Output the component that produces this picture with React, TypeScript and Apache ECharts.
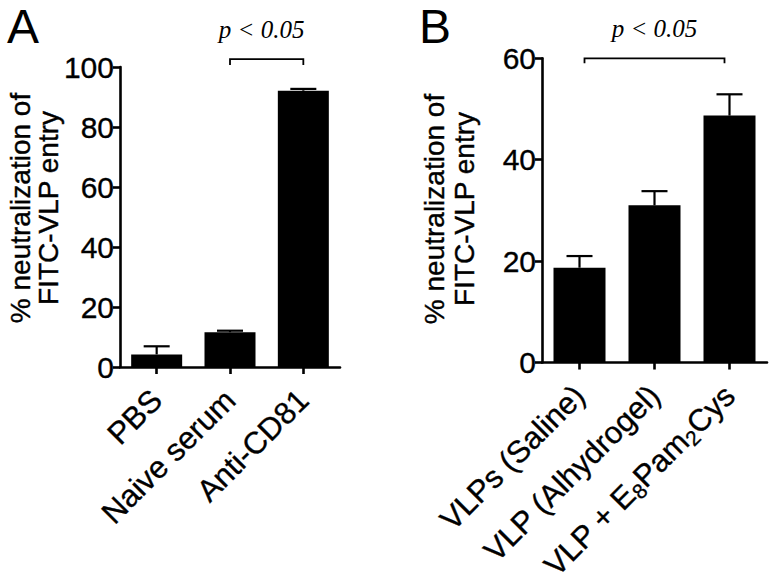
import React, { useEffect, useRef } from "react";
import * as echarts from "echarts";

// ---- Data ----
const groupsA = ["PBS", "Naive serum", "Anti-CD81"];
const meansA = [4.2, 11.6, 92.1];
const semA = [2.7, 0.5, 0.6];
const yTicksA = { min: 0, max: 100, interval: 20 };
const bracketA = [1, 2, 102.6, 100.7]; // from, to, level, drop-to
const pTextA = "p < 0.05";

const groupsB = ["VLPs (Saline)", "VLP (Alhydrogel)", "VLP + E8Pam2Cys"];
const meansB = [18.7, 31.0, 48.7];
const semB = [2.3, 2.8, 4.2];
const yTicksB = { min: 0, max: 60, interval: 20 };
const bracketB = [0, 2, 60, 59.0];
const pTextB = "p < 0.05";

const yTitle = "% neutralization of\nFITC-VLP entry";

const SANS = "Liberation Sans, Arial, sans-serif";
const SERIF = "Liberation Serif, Times New Roman, serif";
const BORDER = { textBorderColor: "#000", textBorderWidth: 0.35 };

function errRender(params: any, api: any) {
  const x = api.value(0);
  const base = api.coord([x, api.value(1)]);
  const top = api.coord([x, api.value(2)]);
  const half = 13;
  return {
    type: "group",
    children: [
      { type: "line", shape: { x1: top[0], y1: base[1], x2: top[0], y2: top[1] }, style: { stroke: "#000", lineWidth: 2.2 } },
      { type: "line", shape: { x1: top[0] - half, y1: top[1], x2: top[0] + half, y2: top[1] }, style: { stroke: "#000", lineWidth: 2.2 } },
    ],
  };
}

function makeBracketRender(text: string, inset: number, textDx: number) {
  return (params: any, api: any) => {
    const a = api.coord([api.value(0), api.value(2)]);
    const b = api.coord([api.value(1), api.value(2)]);
    const d = api.coord([api.value(0), api.value(3)]);
    const xa = a[0] + inset;
    const xb = b[0] - inset;
    return {
      type: "group",
      children: [
        {
          type: "polyline",
          shape: { points: [[xa, d[1]], [xa, a[1]], [xb, b[1]], [xb, d[1]]] },
          style: { stroke: "#000", lineWidth: 1.8, fill: "none" },
        },
        {
          type: "text",
          x: (xa + xb) / 2 + textDx,
          y: a[1] - 17,
          style: {
            text,
            font: `italic 25px ${SERIF}`,
            fill: "#000",
            align: "center",
            verticalAlign: "bottom",
          },
        },
      ],
    };
  };
}

function axisX(gridIndex: number, data: string[], rich: boolean) {
  const ax: any = {
    gridIndex,
    type: "category",
    data,
    boundaryGap: true,
    axisLine: { show: true, lineStyle: { color: "#000", width: 2.6 } },
    axisTick: { show: true, alignWithLabel: true, length: 7, lineStyle: { color: "#000", width: 2.6 } },
    axisLabel: {
      rotate: 45,
      margin: 28,
      interval: 0,
      color: "#000",
      fontSize: 31,
      fontFamily: SANS,
      ...BORDER,
    },
  };
  if (rich) {
    ax.axisLabel.formatter = (v: string) =>
      v
        .split(/(\d+)/)
        .map((p, i) => (p ? (i % 2 ? `{s|${p}}` : `{n|${p}}`) : ""))
        .join("");
    ax.axisLabel.rich = {
      n: { fontSize: 31, fontFamily: SANS, color: "#000", lineHeight: 36, ...BORDER },
      s: { fontSize: 21, fontFamily: SANS, color: "#000", lineHeight: 18, verticalAlign: "bottom", ...BORDER },
    };
  }
  return ax;
}

function axisY(gridIndex: number, t: { min: number; max: number; interval: number }) {
  return {
    gridIndex,
    type: "value",
    min: t.min,
    max: t.max,
    interval: t.interval,
    splitLine: { show: false },
    axisLine: { show: true, lineStyle: { color: "#000", width: 2.6 } },
    axisTick: { show: true, length: 7, lineStyle: { color: "#000", width: 2.6 } },
    axisLabel: { color: "#000", fontSize: 30, fontFamily: SANS, margin: 6, ...BORDER },
  };
}

export default function App() {
  const ref = useRef<HTMLDivElement>(null);
  useEffect(() => {
    if (!ref.current) return;
    const chart = echarts.init(ref.current, null, { renderer: "svg" });
    const titleStyle = {
      text: yTitle,
      font: `28px ${SANS}`,
      fill: "#000",
      align: "center",
      verticalAlign: "middle",
      stroke: "#000",
      lineWidth: 0.4,
    };
    const option: any = {
      animation: false,
      backgroundColor: "#fff",
      grid: [
        { left: 120, top: 67, width: 220, height: 300 },
        { left: 542, top: 58.3, width: 225, height: 307.4 },
      ],
      xAxis: [axisX(0, groupsA, false), axisX(1, groupsB, true)],
      yAxis: [axisY(0, yTicksA), axisY(1, yTicksB)],
      series: [
        {
          type: "bar",
          xAxisIndex: 0,
          yAxisIndex: 0,
          data: meansA,
          barWidth: 51,
          itemStyle: { color: "#000" },
        },
        {
          type: "custom",
          xAxisIndex: 0,
          yAxisIndex: 0,
          renderItem: errRender,
          encode: { x: 0, y: [1, 2] },
          data: meansA.map((m, i) => [i, m, m + semA[i]]),
        },
        {
          type: "custom",
          xAxisIndex: 0,
          yAxisIndex: 0,
          renderItem: makeBracketRender(pTextA, 0, -5),
          encode: { x: [0, 1], y: [2, 3] },
          data: [bracketA],
        },
        {
          type: "bar",
          xAxisIndex: 1,
          yAxisIndex: 1,
          data: meansB,
          barWidth: 52,
          itemStyle: { color: "#000" },
        },
        {
          type: "custom",
          xAxisIndex: 1,
          yAxisIndex: 1,
          renderItem: errRender,
          encode: { x: 0, y: [1, 2] },
          data: meansB.map((m, i) => [i, m, m + semB[i]]),
        },
        {
          type: "custom",
          xAxisIndex: 1,
          yAxisIndex: 1,
          renderItem: makeBracketRender(pTextB, 5, 0),
          encode: { x: [0, 1], y: [2, 3] },
          data: [bracketB],
        },
      ],
      graphic: [
        {
          type: "text",
          x: 7,
          y: 26,
          style: { text: "A", font: `48px ${SANS}`, fill: "#000", align: "left", verticalAlign: "middle" },
        },
        {
          type: "text",
          x: 419,
          y: 26,
          style: { text: "B", font: `48px ${SANS}`, fill: "#000", align: "left", verticalAlign: "middle" },
        },
        {
          type: "text",
          x: 34,
          y: 208,
          rotation: Math.PI / 2,
          style: { ...titleStyle, lineHeight: 28 },
        },
        {
          type: "text",
          x: 449,
          y: 209,
          rotation: Math.PI / 2,
          style: { ...titleStyle, lineHeight: 30 },
        },
      ],
    };
    chart.setOption(option);
    return () => chart.dispose();
  }, []);
  return (
    <div
      ref={ref}
      style={{ position: "fixed", left: 0, top: 0, width: 773, height: 586, background: "#fff" }}
    />
  );
}
